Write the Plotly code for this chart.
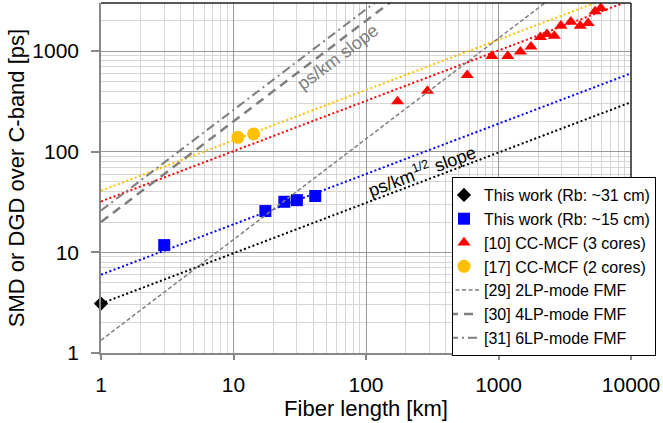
import numpy as np
import plotly.graph_objects as go

# ---- data ----
black_x = [1]
black_y = [3.1]

blue_x = [3, 17.4, 24.2, 30.1, 41.4]
blue_y = [11.8, 25.7, 31.8, 33.0, 36.3]

red_x = [173, 291, 581, 891, 1175, 1463, 1758, 2070, 2322, 2637, 2958, 3514, 4140, 4750, 5360, 5920]
red_y = [316, 401, 575, 891, 891, 985, 1104, 1371, 1469, 1413, 1778, 1950, 1778, 1892, 2472, 2673]

orange_x = [10.8, 14.2]
orange_y = [139, 150]

# fit coefficients (sqrt slope) and FMF reference lines (linear slope)
fit_coef = {"black": 3.1, "blue": 6.0, "red": 32.0, "orange": 41.0}
fmf_names = ["[29] 2LP-mode FMF", "[30] 4LP-mode FMF", "[31] 6LP-mode FMF"]
fmf_coef = [1.34, 20.0, 26.0]

x_tick_vals = [1, 10, 100, 1000, 10000]
x_tick_text = ["1", "10", "100", "1000", "10000"]
y_tick_vals = [1, 10, 100, 1000]
y_tick_text = ["1", "10", "100", "1000"]

FONT = "Liberation Sans, Arial, sans-serif"
GRAY = "#7f7f7f"

fig = go.Figure()

Lfit = np.logspace(0, 4, 200)
fit_colors = {"black": "#000000", "blue": "#0000ff", "red": "#ff0000", "orange": "#ffc000"}
for k in ["orange", "red", "blue", "black"]:
    fig.add_trace(go.Scatter(x=Lfit, y=fit_coef[k] * np.sqrt(Lfit), mode="lines",
                             line=dict(color=fit_colors[k], width=2, dash="2px,2.5px"),
                             showlegend=False, hoverinfo="skip"))

# markers
fig.add_trace(go.Scatter(x=black_x, y=black_y, mode="markers", name="This work (Rb: ~31 cm)",
                         cliponaxis=False,
                         marker=dict(symbol="diamond", size=11, color="#000000")))
fig.add_trace(go.Scatter(x=blue_x, y=blue_y, mode="markers", name="This work (Rb: ~15 cm)",
                         marker=dict(symbol="square", size=12, color="#0000ff")))
fig.add_trace(go.Scatter(x=red_x, y=red_y, mode="markers", name="[10] CC-MCF (3 cores)",
                         cliponaxis=False,
                         marker=dict(symbol="triangle-up", size=11.5, color="#ff0000")))
fig.add_trace(go.Scatter(x=orange_x, y=orange_y, mode="markers", name="[17] CC-MCF (2 cores)",
                         marker=dict(symbol="circle", size=13, color="#ffc000")))

fmf_styles = [dict(width=1.5, dash="4px,2.5px"),
              dict(width=2.5, dash="9px,6px"),
              dict(width=2, dash="9px,4px,2px,4px")]
Lline = np.array([1, 10000])
for name, c, st in zip(fmf_names, fmf_coef, fmf_styles):
    fig.add_trace(go.Scatter(x=Lline, y=c * Lline, mode="lines", name=name,
                             line=dict(color=GRAY, **st)))

def minor_vals(nmax_dec, top):
    vals = []
    for n in range(nmax_dec):
        for k in range(2, 10):
            v = k * 10 ** n
            if v <= top:
                vals.append(v)
    return vals

axis_common = dict(type="log", showgrid=True, gridcolor="#999999", gridwidth=1.2,
                   showline=True, linecolor="#888888", linewidth=1.5,
                   ticks="outside", tickcolor="#888888", tickwidth=1.5,
                   tickfont=dict(size=21, color="#000000", family=FONT),
                   zeroline=False)

fig.update_xaxes(range=[0, 4], tickvals=x_tick_vals, ticktext=x_tick_text,
                 ticklen=5, ticklabelstandoff=7,
                 minor=dict(tickmode="array", tickvals=minor_vals(4, 10000), showgrid=True,
                            gridcolor="#d6d6d6", gridwidth=1.2, ticks=""),
                 title=dict(text="Fiber length [km]", font=dict(size=22, family=FONT, color="#000"),
                            standoff=1),
                 **axis_common)
fig.update_yaxes(range=[0, np.log10(3000)], tickvals=y_tick_vals, ticktext=y_tick_text,
                 ticklen=8, ticklabelstandoff=8,
                 minor=dict(tickmode="array", tickvals=minor_vals(4, 3000), showgrid=True,
                            gridcolor="#d6d6d6", gridwidth=1.2, ticks=""),
                 title=dict(text="SMD or DGD over C-band [ps]", font=dict(size=22, family=FONT, color="#000"),
                            standoff=2),
                 **axis_common)

fig.add_annotation(x=np.log10(61.6), y=np.log10(865), text="ps/km slope", showarrow=False,
                   textangle=-37, font=dict(size=18, color="#808080", family=FONT))
fig.add_annotation(x=np.log10(264), y=np.log10(65.3), text="ps/km<sup>1/2</sup> slope", showarrow=False,
                   textangle=-20.6, font=dict(size=18, color="#000000", family=FONT))

# dark top/right frame
fig.add_shape(type="line", xref="paper", yref="paper", x0=0, x1=1, y0=1, y1=1,
              line=dict(color="#222222", width=1.5))
fig.add_shape(type="line", xref="paper", yref="paper", x0=1, x1=1, y0=0, y1=1,
              line=dict(color="#222222", width=1.5))

L, R, T, B = 101, 32, 3, 70
pw, ph = 663 - L - R, 423 - T - B
fig.update_layout(
    width=663, height=423,
    margin=dict(l=L, r=R, t=T, b=B),
    paper_bgcolor="white", plot_bgcolor="white",
    font=dict(family=FONT, color="#000000"),
    showlegend=True,
    legend=dict(x=(452 - L) / pw, y=(423 - B - 177) / ph, xanchor="left", yanchor="top",
                bgcolor="white", bordercolor="#000000", borderwidth=1,
                font=dict(size=16, family=FONT, color="#000000"),
                indentation=-9, tracegroupgap=0),
)

fig.write_html("out.html")
